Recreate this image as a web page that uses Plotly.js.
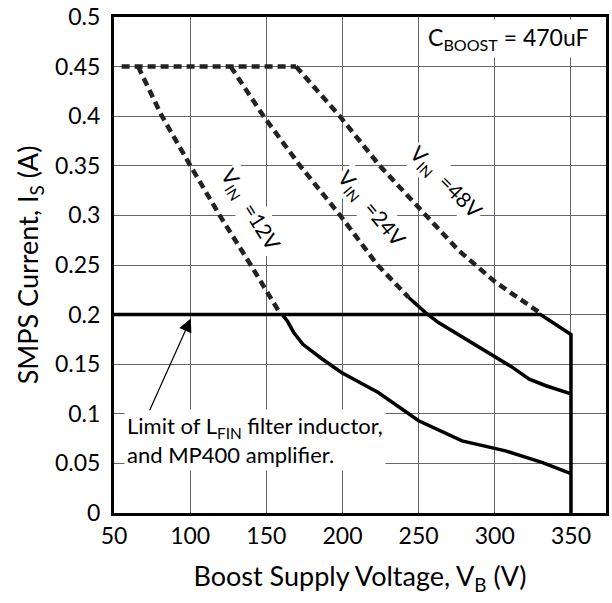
<!DOCTYPE html>
<html><head><meta charset="utf-8">
<script src="https://cdn.plot.ly/plotly-3.0.1.min.js"></script>
<style>body{margin:0;background:#fff}#c{width:612px;height:603px}</style>
</head><body><div id="c"></div>
<script>
// Data
const flatX = [55, 169.5];
const flatY = [0.45, 0.45];
const v12DashX = [65.8, 81.5, 100.2, 119.4, 139.8, 159.5];
const v12DashY = [0.45, 0.40, 0.35, 0.30, 0.25, 0.20];
const v12SolidX = [160.5, 164, 168, 174, 186, 199.3, 223.5, 250, 278.5, 307, 331.4, 350];
const v12SolidY = [0.20, 0.193, 0.182, 0.170, 0.156, 0.1417, 0.1215, 0.093, 0.0727, 0.0626, 0.0508, 0.0397];
const v24DashX = [126.6, 148.2, 172.2, 198.5, 223, 243.3];
const v24DashY = [0.45, 0.40, 0.35, 0.30, 0.25, 0.2175];
const v24SolidX = [243.3, 254.3, 263, 280.7, 300.5, 311.6, 322.6, 333.6, 350];
const v24SolidY = [0.2175, 0.2023, 0.192, 0.1754, 0.157, 0.1468, 0.135, 0.1283, 0.12];
const v48DashX = [169.5, 198.2, 224.5, 252, 276.3, 300.5, 329.2];
const v48DashY = [0.45, 0.40, 0.35, 0.305, 0.2646, 0.2326, 0.2023];
const limitX = [50, 330, 350, 350];
const limitY = [0.2, 0.2, 0.18, 0];
const xTicks = [50, 100, 150, 200, 250, 300, 350];
const yTicks = [0, 0.05, 0.1, 0.15, 0.2, 0.25, 0.3, 0.35, 0.4, 0.45, 0.5];
const yTickText = ["0", "0.05", "0.1", "0.15", "0.2", "0.25", "0.3", "0.35", "0.4", "0.45", "0.5"];

const F = "Lato, 'Open Sans', sans-serif";
const dashLine = {color: '#222', width: 4.5, dash: '8px,5px'};
const solidLine = {color: '#000', width: 3.5};
function tr(x, y, line) { return {x: x, y: y, type: 'scatter', mode: 'lines', line: line, hoverinfo: 'skip', showlegend: false}; }

const data = [
  tr(flatX, flatY, dashLine),
  tr(v12DashX, v12DashY, dashLine),
  tr(v24DashX, v24DashY, dashLine),
  tr(v48DashX, v48DashY, dashLine),
  tr(v12SolidX, v12SolidY, solidLine),
  tr(v24SolidX, v24SolidY, solidLine),
  tr(limitX, limitY, solidLine)
];

const layout = {
  width: 612, height: 603,
  margin: {l: 114, r: 6, t: 17, b: 90},
  paper_bgcolor: '#fff', plot_bgcolor: '#fff',
  font: {family: F, size: 20, color: '#000'},
  xaxis: {
    range: [50, 373], tickvals: xTicks, ticks: '', showgrid: true,
    gridcolor: '#666', gridwidth: 1, zeroline: false,
    showline: true, mirror: true, linecolor: '#000', linewidth: 3,
    tickfont: {size: 23, family: F}, ticklabelstandoff: 0,
    title: {text: 'Boost Supply Voltage, V<sub>B</sub> (V)', font: {size: 27, family: F}, standoff: 20}
  },
  yaxis: {
    range: [0, 0.5], tickvals: yTicks, ticktext: yTickText, ticks: '', showgrid: true,
    gridcolor: '#666', gridwidth: 1, zeroline: false,
    showline: true, mirror: true, linecolor: '#000', linewidth: 3,
    tickfont: {size: 23, family: F}, ticklabelstandoff: 6,
    title: {text: 'SMPS Current, I<sub>S</sub> (A)', font: {size: 27, family: F}, standoff: 9}
  },
  annotations: [
    {x: 309, y: 0.478, xref: 'x', yref: 'y', text: 'C<sub>BOOST</sub> = 470uF', showarrow: false,
     bgcolor: '#fff', borderpad: 3, font: {size: 23, family: F}},
    {x: 56.3, y: 0.074, xref: 'x', yref: 'y', xanchor: 'left', yanchor: 'middle', align: 'left',
     text: 'Limit of L<sub>FIN</sub> filter inductor,<br>and MP400 amplifier.', showarrow: false,
     bgcolor: '#fff', borderpad: 2, font: {size: 22, family: F}},
    {x: 100.4, y: 0.196, xref: 'x', yref: 'y', ax: 73, ay: 0.102, axref: 'x', ayref: 'y',
     text: '', showarrow: true, arrowhead: 2, arrowsize: 2.2, arrowwidth: 1.2, arrowcolor: '#000', standoff: 0},
    {x: 139.3, y: 0.305, xref: 'x', yref: 'y', text: 'V<sub>IN</sub>  =12V', textangle: 58, showarrow: false,
     bgcolor: '#fff', font: {size: 21, family: F}},
    {x: 218.9, y: 0.306, xref: 'x', yref: 'y', text: 'V<sub>IN</sub>  =24V', textangle: 50, showarrow: false,
     bgcolor: '#fff', font: {size: 21, family: F}},
    {x: 268.2, y: 0.333, xref: 'x', yref: 'y', text: 'V<sub>IN</sub>  =48V', textangle: 45, showarrow: false,
     bgcolor: '#fff', font: {size: 21, family: F}}
  ]
};
Plotly.newPlot('c', data, layout, {staticPlot: true, displayModeBar: false});
</script></body></html>
